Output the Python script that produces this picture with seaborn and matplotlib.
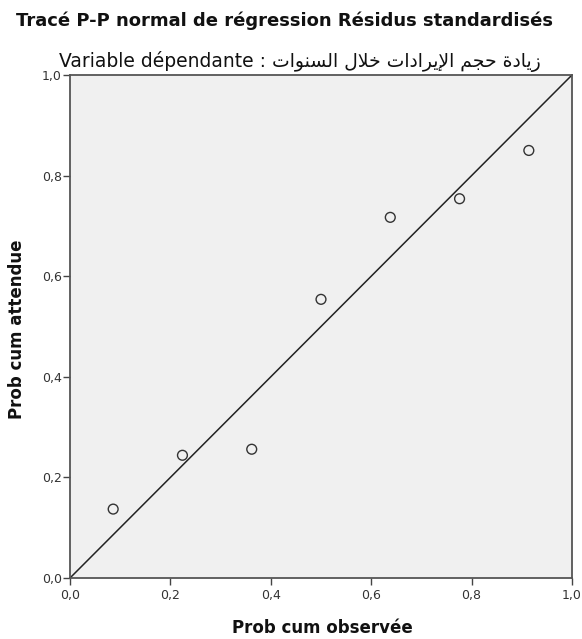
import matplotlib
matplotlib.use("Agg")
import matplotlib.pyplot as plt
import seaborn as sns
import pandas as pd

# Data
prob_observed = [0.086, 0.224, 0.362, 0.500, 0.638, 0.776, 0.914]
prob_expected = [0.137, 0.244, 0.256, 0.554, 0.717, 0.754, 0.850]
ref_line = [0.0, 1.0]
tick_values = [0.0, 0.2, 0.4, 0.6, 0.8, 1.0]
tick_labels = ["0,0", "0,2", "0,4", "0,6", "0,8", "1,0"]

title = "Tracé P-P normal de régression Résidus standardisés"
# Arabic dependent variable name "زيادة حجم الإيرادات خلال السنوات"
# given in shaped presentation forms, visual (left-to-right) order
ar_words_logical = [
    "\uFEAF\uFEF3\uFE8E\uFEA9\uFE93",                      # زيادة
    "\uFEA3\uFEA0\uFEE2",                                  # حجم
    "\uFE8D\uFEF9\uFEF3\uFEAE\uFE8D\uFEA9\uFE8D\uFE95",    # الإيرادات
    "\uFEA7\uFEFC\uFEDD",                                  # خلال
    "\uFE8D\uFEDF\uFEB4\uFEE8\uFEEE\uFE8D\uFE95",          # السنوات
]
ar_visual = " ".join(w[::-1] for w in ar_words_logical[::-1])
subtitle = "Variable dépendante : " + ar_visual

sns.set_theme(style="white")
plt.rcParams["font.family"] = ["DejaVu Sans", "Liberation Sans"]

df = pd.DataFrame({"obs": prob_observed, "exp": prob_expected})
ref = pd.DataFrame({"x": ref_line, "y": ref_line})

W, H = 582, 639
L, R, T, B = 70, 572, 75, 578
fig = plt.figure(figsize=(W / 100, H / 100), dpi=100)
ax = fig.add_axes([L / W, 1 - B / H, (R - L) / W, (B - T) / H])
ax.set_facecolor("#f0f0f0")

sns.lineplot(data=ref, x="x", y="y", ax=ax, color="#222222", linewidth=1.1)
sns.scatterplot(data=df, x="obs", y="exp", ax=ax, marker="o",
                facecolor="none", edgecolor="#333333", linewidth=1.0, s=50, zorder=3)

ax.set_xlim(0, 1)
ax.set_ylim(0, 1)
ax.set_xticks(tick_values)
ax.set_xticklabels(tick_labels)
ax.set_yticks(tick_values)
ax.set_yticklabels(tick_labels)
ax.tick_params(axis="x", which="major", direction="out", length=5, width=1,
               color="#444444", labelsize=9, labelcolor="#333333", pad=3,
               bottom=True)
ax.tick_params(axis="y", which="major", direction="out", length=5, width=1,
               color="#444444", labelsize=9, labelcolor="#333333", pad=1,
               left=True)
for s in ax.spines.values():
    s.set_visible(True)
    s.set_color("#555555")
    s.set_linewidth(1.3)

ax.set_xlabel("")
ax.set_ylabel("")
fig.text(322 / W, 1 - 633 / H, "Prob cum observée", ha="center", va="baseline",
         fontsize=12, fontweight="bold", color="#111111")
fig.text(22 / W, 1 - 329 / H, "Prob cum attendue", ha="center", va="baseline",
         rotation=90, rotation_mode="anchor", fontsize=12, fontweight="bold",
         color="#111111")

fig.text(284.5 / W, 1 - 26 / H, title, ha="center", va="baseline",
         fontsize=13, fontweight="bold", color="#111111")
fig.text(300 / W, 1 - 67 / H, subtitle, ha="center", va="baseline",
         fontsize=13.5, color="#111111")

fig.savefig("out.png", dpi=100)
